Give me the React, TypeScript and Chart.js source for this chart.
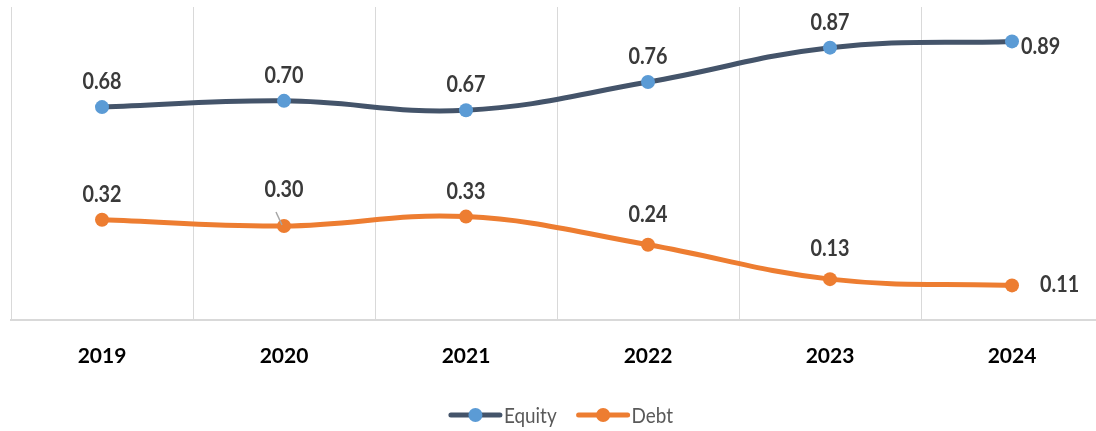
import React, { useEffect, useRef } from "react";
import { Chart, registerables } from "chart.js";

Chart.register(...registerables);

const years = ["2019", "2020", "2021", "2022", "2023", "2024"];
const equity = [0.68, 0.7, 0.67, 0.76, 0.87, 0.89];
const debt = [0.32, 0.3, 0.33, 0.24, 0.13, 0.11];
const seriesNames = ["Equity", "Debt"];

// label placement per point (style only)
const equityPlacement = ["above", "above", "above", "above", "above", "right"];
const debtPlacement = ["above", "leader", "above", "aboveHigh", "aboveHigh", "rightFar"];

const LINE_COLORS = ["#44546A", "#ED7D31"];
const POINT_COLORS = ["#5B9BD5", "#ED7D31"];
const LABEL_FONT = "bold 22px Lato";
const SQUEEZE = 0.9;

const labelPlugin = {
  id: "valueLabels",
  afterDatasetsDraw(chart: any) {
    const ctx = chart.ctx;
    const placements = [equityPlacement, debtPlacement];
    ctx.save();
    ctx.font = LABEL_FONT;
    ctx.fillStyle = "#3a3a3a";
    chart.data.datasets.forEach((ds: any, di: number) => {
      const meta = chart.getDatasetMeta(di);
      meta.data.forEach((pt: any, i: number) => {
        const v = ds.data[i] as number;
        const txt = v.toFixed(2);
        const p = placements[di][i];
        let x = pt.x;
        let y = pt.y;
        let align: CanvasTextAlign = "center";
        if (p === "above") {
          y -= 25;
        } else if (p === "aboveHigh") {
          y -= 30;
        } else if (p === "leader") {
          y -= 36;
          ctx.save();
          ctx.strokeStyle = "#a6a6a6";
          ctx.lineWidth = 1.5;
          ctx.beginPath();
          ctx.moveTo(pt.x - 8, pt.y - 14);
          ctx.lineTo(pt.x - 2, pt.y - 1);
          ctx.stroke();
          ctx.restore();
        } else if (p === "right") {
          align = "left";
          x += 9;
          y += 5;
        } else if (p === "rightFar") {
          align = "left";
          x += 28;
        }
        ctx.save();
        ctx.translate(x, y);
        ctx.scale(SQUEEZE, 1);
        ctx.textAlign = align;
        ctx.textBaseline = "middle";
        ctx.fillText(txt, 0, 0);
        ctx.restore();
      });
    });
    ctx.restore();
  },
  afterDraw(chart: any) {
    const ctx = chart.ctx;
    ctx.save();
    ctx.font = "21px Lato";
    const lineW = 53;
    const gapText = 2;
    const gapItems = 20;
    const widths = seriesNames.map((n) => lineW + gapText + ctx.measureText(n).width * SQUEEZE);
    const total = widths.reduce((a, b) => a + b, 0) + gapItems * (seriesNames.length - 1);
    let x = 561 - total / 2;
    const y = 415;
    seriesNames.forEach((n, i) => {
      ctx.strokeStyle = LINE_COLORS[i];
      ctx.lineWidth = 5;
      ctx.lineCap = "round";
      ctx.beginPath();
      ctx.moveTo(x + 2, y);
      ctx.lineTo(x + lineW - 2, y);
      ctx.stroke();
      ctx.fillStyle = POINT_COLORS[i];
      ctx.beginPath();
      ctx.arc(x + lineW / 2, y, 7, 0, Math.PI * 2);
      ctx.fill();
      ctx.save();
      ctx.translate(x + lineW + gapText, y + 1);
      ctx.scale(SQUEEZE, 1);
      ctx.fillStyle = "#595959";
      ctx.textAlign = "left";
      ctx.textBaseline = "middle";
      ctx.fillText(n, 0, 0);
      ctx.restore();
      x += widths[i] + gapItems;
    });
    ctx.restore();
  },
};

export default function App() {
  const ref = useRef<HTMLCanvasElement | null>(null);
  useEffect(() => {
    if (!ref.current) return;
    const chart = new Chart(ref.current, {
      type: "line",
      data: {
        labels: years,
        datasets: [
          {
            label: seriesNames[0],
            data: equity,
            borderColor: LINE_COLORS[0],
            borderWidth: 5,
            pointBackgroundColor: POINT_COLORS[0],
            pointBorderColor: POINT_COLORS[0],
            pointBorderWidth: 0,
            pointRadius: 7,
            tension: 0.4,
          },
          {
            label: seriesNames[1],
            data: debt,
            borderColor: LINE_COLORS[1],
            borderWidth: 5,
            pointBackgroundColor: POINT_COLORS[1],
            pointBorderColor: POINT_COLORS[1],
            pointBorderWidth: 0,
            pointRadius: 7,
            tension: 0.4,
          },
        ],
      },
      options: {
        responsive: false,
        animation: false,
        layout: { padding: { left: 11, right: 7, top: 7, bottom: 38 } },
        plugins: {
          legend: { display: false },
          tooltip: { enabled: false },
        },
        scales: {
          x: {
            offset: true,
            grid: { offset: true, color: "#d9d9d9", lineWidth: 1, drawTicks: false },
            border: { color: "#d9d9d9", width: 2 },
            ticks: {
              padding: 24,
              color: "#000000",
              font: { family: "Lato", size: 21, weight: "bold" },
            },
          },
          y: {
            display: false,
            min: 0,
            max: 1,
          },
        },
      },
      plugins: [labelPlugin],
    });
    return () => chart.destroy();
  }, []);
  return (
    <div
      style={{
        position: "fixed",
        left: 0,
        top: 0,
        width: 1096,
        height: 431,
        overflow: "hidden",
        background: "#fff",
      }}
    >
      <canvas ref={ref} width={1110} height={431} style={{ width: 1110, height: 431, display: "block" }} />
    </div>
  );
}
